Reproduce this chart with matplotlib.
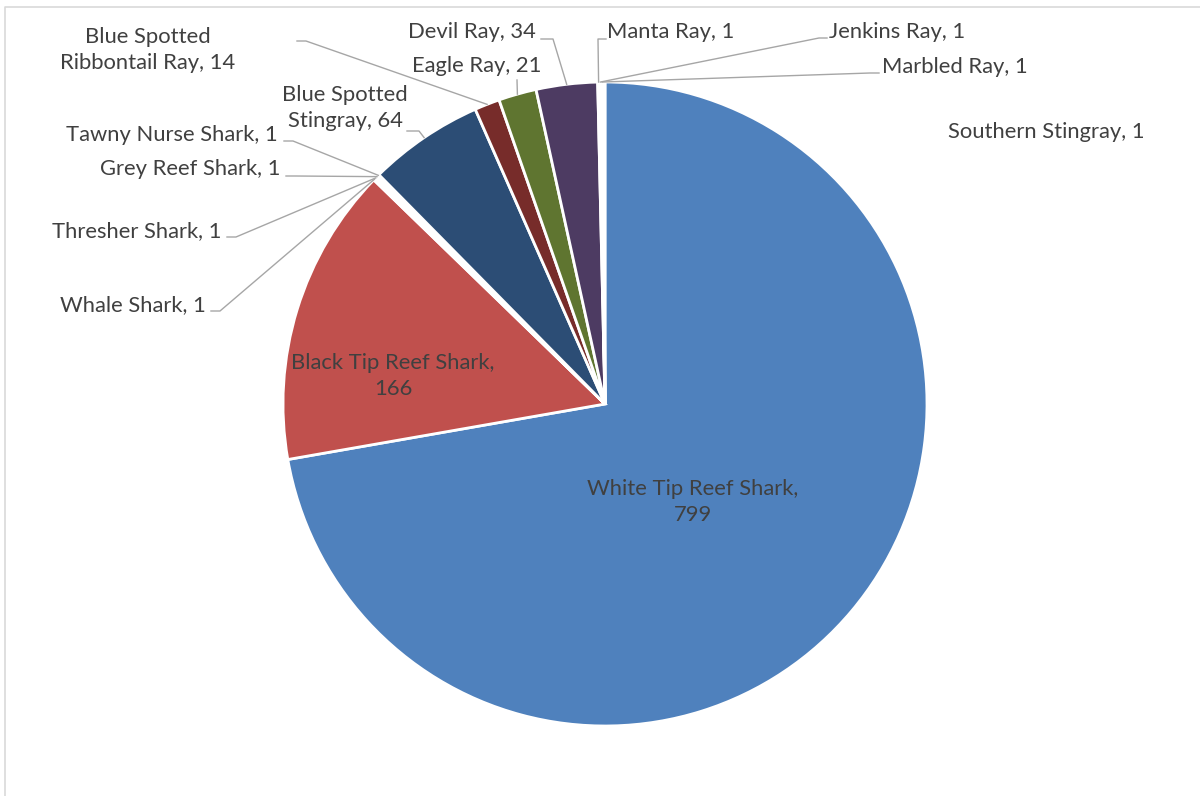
import numpy as np
import matplotlib.pyplot as plt

W, H = 1200, 796

species = ['White Tip Reef Shark', 'Black Tip Reef Shark', 'Whale Shark', 'Thresher Shark',
           'Grey Reef Shark', 'Tawny Nurse Shark', 'Blue Spotted Stingray',
           'Blue Spotted Ribbontail Ray', 'Eagle Ray', 'Devil Ray', 'Manta Ray',
           'Jenkins Ray', 'Marbled Ray', 'Southern Stingray']
counts = [799, 166, 1, 1, 1, 1, 64, 14, 21, 34, 1, 1, 1, 1]
label_lines = ['White Tip Reef Shark,\n799', 'Black Tip Reef Shark,\n166', 'Whale Shark, 1',
               'Thresher Shark, 1', 'Grey Reef Shark, 1', 'Tawny Nurse Shark, 1',
               'Blue Spotted\nStingray, 64', 'Blue Spotted\nRibbontail Ray, 14', 'Eagle Ray, 21',
               'Devil Ray, 34', 'Manta Ray, 1', 'Jenkins Ray, 1', 'Marbled Ray, 1',
               'Southern Stingray, 1']
colors = ['#4F81BD', '#C0504D', '#9BBB59', '#8064A2', '#4BACC6', '#F79646',
          '#2C4D75', '#772C2A', '#5F7530', '#4D3B62', '#276A7C', '#B65708',
          '#729ACA', '#CD7371']

# label placement in pixels (x, y from top, alignment) and leader start points
label_pos = [(693, 502, 'center'), (393, 376, 'center'), (206, 305, 'right'),
             (222, 231, 'right'), (281, 169, 'right'), (278, 135, 'right'),
             (345, 108, 'center'), (148, 50, 'center'), (477, 66, 'center'),
             (536, 32, 'right'), (607, 32, 'left'), (829, 32, 'left'),
             (882, 67, 'left'), (948, 132, 'left')]
leaders = [None, None, [(211, 311), (220, 311)], [(227, 237), (236, 237)],
           [(286, 176), (295, 176)], [(284, 141), (293, 141)],
           [(407, 131), (419, 131)], [(297, 41), (306, 41)], [(517, 80)],
           [(541, 39), (553, 39)], [(606, 39), (598, 39)], [(827, 38), (819, 38)],
           [(879, 73), (870, 73)], None]

cx, cy, R = 605, H - 404, 322

plt.rcParams['font.family'] = ['Lato', 'DejaVu Sans']
fig = plt.figure(figsize=(W / 100, H / 100), dpi=100)
ax = fig.add_axes([0, 0, 1, 1])

wedges, _ = ax.pie(counts, colors=colors, startangle=90, counterclock=False,
                   center=(cx, cy), radius=R,
                   wedgeprops=dict(edgecolor='white', linewidth=2))
ax.set_xlim(0, W)
ax.set_ylim(0, H)
ax.set_aspect('equal')
ax.axis('off')

# scale the font so the label width matches the Excel original
r = fig.canvas.get_renderer()
t = ax.text(0, 0, 'Southern Stingray, 1', fontsize=17)
fs = 17 * 197 / t.get_window_extent(r).width
t.remove()

txt_col = '#404040'
line_col = '#A6A6A6'
for w, lab, (x, y, ha), ld in zip(wedges, label_lines, label_pos, leaders):
    ax.text(x, H - y, lab, ha=ha, va='center', multialignment='center',
            fontsize=fs, color=txt_col, linespacing=1.4)
    if ld is None:
        continue
    mid = np.deg2rad((w.theta1 + w.theta2) / 2)
    ax_pt = (cx + R * np.cos(mid), cy + R * np.sin(mid))
    xs = [p[0] for p in ld] + [ax_pt[0]]
    ys = [H - p[1] for p in ld] + [ax_pt[1]]
    ax.plot(xs, ys, color=line_col, lw=1.0)

# chart area border (cropped on the right and bottom)
ax.plot([5, 5, W], [0, H - 7, H - 7], color='#D9D9D9', lw=1.2, clip_on=False)

fig.savefig('out.png', dpi=100)
